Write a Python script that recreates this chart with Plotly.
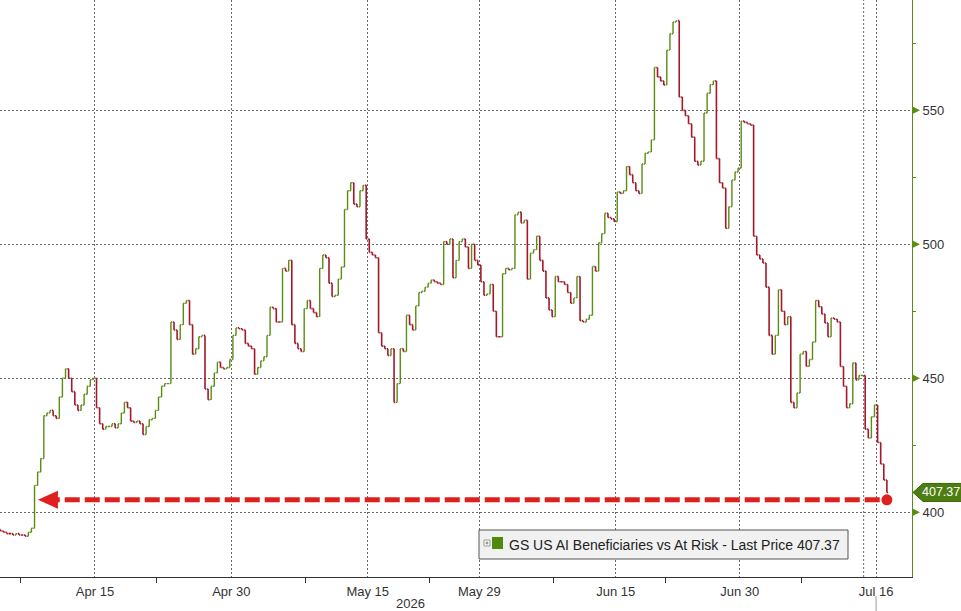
import pandas as pd
import plotly.graph_objects as go

# ------------------------
# Data (4 intraday bars per trading day)
# ------------------------
holidays = ["2026-04-03", "2026-05-25", "2026-06-19", "2026-07-03"]
trading_days = [d for d in pd.bdate_range("2026-04-02", "2026-07-16")
                if d.strftime("%Y-%m-%d") not in holidays]
bars_per_day = 4

closes = [
    393.5, 393.0, 392.5, 392.0,   # Apr 2
    392.0, 391.5, 392.0, 391.5,   # Apr 6
    391.5, 391.0, 392.5, 394.0,   # Apr 7
    410.0, 415.0, 420.0, 436.0,   # Apr 8
    437.0, 438.0, 436.0, 435.0,   # Apr 9
    443.0, 450.0, 453.5, 450.0,   # Apr 10
    445.0, 440.0, 438.0, 440.0,   # Apr 13
    444.0, 447.0, 449.5, 450.0,   # Apr 14
    439.0, 433.0, 431.0, 432.0,   # Apr 15
    432.0, 433.0, 431.5, 433.0,   # Apr 16
    437.0, 441.0, 439.0, 434.0,   # Apr 17
    433.5, 434.0, 433.0, 429.0,   # Apr 20
    432.0, 434.5, 435.0, 438.0,   # Apr 21
    443.0, 447.0, 448.0, 448.0,   # Apr 22
    471.0, 468.0, 464.5, 470.0,   # Apr 23
    478.0, 479.0, 470.0, 459.0,   # Apr 24
    461.0, 465.5, 466.0, 446.0,   # Apr 27
    442.0, 447.0, 452.0, 456.0,   # Apr 28
    454.0, 453.5, 454.0, 457.0,   # Apr 29
    466.0, 468.8, 468.5, 468.0,   # Apr 30
    463.0, 462.0, 461.0, 451.5,   # May 1
    454.0, 456.5, 458.0, 466.0,   # May 4
    476.5, 476.0, 471.0, 471.0,   # May 5
    491.0, 490.0, 494.0, 470.0,   # May 6
    463.0, 461.0, 460.0, 476.0,   # May 7
    479.0, 476.0, 474.5, 473.0,   # May 8
    491.0, 496.0, 495.0, 485.5,   # May 11
    480.5, 481.0, 487.0, 491.5,   # May 12
    513.0, 520.0, 523.0, 515.0,   # May 13
    514.0, 520.0, 522.0, 502.0,   # May 14
    497.0, 496.0, 495.0, 467.0,   # May 15
    462.0, 461.0, 458.5, 461.0,   # May 18
    441.0, 448.0, 461.0, 460.0,   # May 19
    473.5, 470.0, 468.0, 477.0,   # May 20
    482.0, 482.5, 484.0, 485.5,   # May 21
    486.7, 486.0, 485.5, 485.0,   # May 22
    501.0, 500.0, 502.0, 487.5,   # May 26
    494.0, 501.0, 502.0, 499.0,   # May 27
    491.0, 500.0, 494.0, 492.3,   # May 28
    486.0, 481.0, 481.5, 485.0,   # May 29
    475.0, 465.5, 465.5, 489.0,   # Jun 1
    491.0, 490.5, 491.0, 511.0,   # Jun 2
    512.0, 508.0, 509.0, 487.0,   # Jun 3
    496.7, 498.0, 503.0, 494.0,   # Jun 4
    490.0, 480.0, 475.5, 473.0,   # Jun 5
    488.0, 486.0, 486.0, 485.0,   # Jun 8
    482.0, 478.0, 480.0, 488.0,   # Jun 9
    471.5, 471.0, 472.0, 473.5,   # Jun 10
    491.7, 490.0, 500.6, 504.0,   # Jun 11
    511.6, 510.0, 509.5, 508.5,   # Jun 12
    519.5, 519.0, 520.0, 529.0,   # Jun 15
    526.0, 523.0, 520.0, 519.0,   # Jun 16
    530.0, 534.0, 534.5, 539.0,   # Jun 17
    566.0, 562.5, 561.0, 559.5,   # Jun 18
    572.5, 578.6, 583.0, 583.5,   # Jun 22
    555.0, 550.0, 548.0, 545.0,   # Jun 23
    540.0, 531.0, 529.6, 531.0,   # Jun 24
    549.0, 556.4, 559.6, 561.0,   # Jun 25
    532.0, 523.0, 521.0, 506.0,   # Jun 26
    514.0, 524.0, 527.0, 528.5,   # Jun 29
    546.0, 545.5, 545.0, 544.5,   # Jun 30
    503.0, 496.0, 494.5, 493.0,   # Jul 1
    484.0, 466.0, 459.0, 466.0,   # Jul 2
    483.0, 475.0, 470.0, 473.0,   # Jul 6
    441.0, 439.0, 444.5, 459.0,   # Jul 7
    460.0, 454.5, 457.0, 463.5,   # Jul 8
    479.0, 476.7, 474.0, 470.6,   # Jul 9
    465.5, 472.5, 472.0, 471.0,   # Jul 10
    454.4, 447.0, 439.0, 440.5,   # Jul 13
    455.7, 449.4, 451.0, 451.0,   # Jul 14
    431.0, 427.7, 435.6, 440.0,   # Jul 15
    426.0, 418.0, 412.0, 407.37,  # Jul 16
]

last_price = 407.37
arrow_level = 404.6
series_name = "GS US AI Beneficiaries vs At Risk - Last Price 407.37"

major_dates = ["2026-04-15", "2026-04-30", "2026-05-15", "2026-05-29",
               "2026-06-15", "2026-06-30", "2026-07-16"]
major_labels = ["Apr 15", "Apr 30", "May 15", "May 29", "Jun 15", "Jun 30", "Jul 16"]
minor_dates = ["2026-04-07", "2026-04-22", "2026-05-08", "2026-05-22",
               "2026-06-08", "2026-06-22", "2026-07-08"]
y_ticks = [400, 450, 500, 550]
y_minor = [425, 475, 525, 575]

# ------------------------
# Build OHLC bars on a trading-day axis
# ------------------------
day_pos = {d.strftime("%Y-%m-%d"): i for i, d in enumerate(trading_days)}
x = [i + (k + 0.5) / bars_per_day
     for i in range(len(trading_days)) for k in range(bars_per_day)]
opens = [closes[0]] + closes[:-1]
highs = [max(o, c) for o, c in zip(opens, closes)]
lows = [min(o, c) for o, c in zip(opens, closes)]

GREEN = "#5b8c14"
RED = "#a3192b"
ARROW = "#e0201c"
GRID = "#6a6a6a"

fig = go.Figure()
fig.add_trace(go.Ohlc(
    x=x, open=opens, high=highs, low=lows, close=closes,
    increasing=dict(line=dict(color=GREEN, width=1.4)),
    decreasing=dict(line=dict(color=RED, width=1.6)),
    tickwidth=0.4, showlegend=False, hoverinfo="skip"
))

# red dot at the last bar
fig.add_trace(go.Scatter(
    x=[x[-1]], y=[arrow_level], mode="markers",
    marker=dict(color=ARROW, size=11), showlegend=False, hoverinfo="skip"
))

# ------------------------
# Shapes / annotations
# ------------------------
PW, PH = 912, 577  # plot area in pixels


def px(v):
    return v / PW


def py(v):
    return 1 - v / PH


shapes = []
# dashed arrow line + head
shapes.append(dict(type="line", xref="x", yref="y",
                   x0=day_pos["2026-04-09"] - 0.05, x1=x[-1],
                   y0=arrow_level, y1=arrow_level,
                   line=dict(color=ARROW, width=5, dash="15px,5px")))
shapes.append(dict(type="path", xref="x", yref="y",
                   xsizemode="pixel", ysizemode="pixel",
                   xanchor=day_pos["2026-04-09"] - 0.6, yanchor=arrow_level,
                   path="M0,0 L20,9 L20,-9 Z", fillcolor=ARROW, line=dict(width=0)))
# extra dotted gridline on Jul 15
shapes.append(dict(type="line", xref="x", yref="paper",
                   x0=day_pos["2026-07-15"], x1=day_pos["2026-07-15"], y0=0, y1=1,
                   line=dict(color=GRID, width=1, dash="2px,2px"), layer="below"))
# little marker line below Jul 16 label
shapes.append(dict(type="line", xref="x", yref="paper",
                   x0=day_pos["2026-07-16"], x1=day_pos["2026-07-16"],
                   y0=py(596), y1=py(612), line=dict(color="#999999", width=1)))
# right-axis triangle ticks
for v in y_ticks:
    shapes.append(dict(type="path", xref="paper", yref="y",
                       xsizemode="pixel", ysizemode="pixel", xanchor=1, yanchor=v,
                       path="M0,-4 L8,0 L0,4 Z", fillcolor=GREEN, line=dict(width=0)))
# last price tag
shapes.append(dict(type="path", xref="paper", yref="y",
                   xsizemode="pixel", ysizemode="pixel", xanchor=1, yanchor=last_price,
                   path="M1,0 L11,-9 L50,-9 L50,9 L11,9 Z",
                   fillcolor="#4e7e12", line=dict(color="#3b650a", width=1)))
# legend box
shapes.append(dict(type="rect", xref="paper", yref="paper",
                   x0=px(479), x1=px(848), y0=py(559), y1=py(530),
                   fillcolor="#f1f1f1", line=dict(color="#555555", width=1)))
shapes.append(dict(type="rect", xref="paper", yref="paper",
                   x0=px(484), x1=px(490), y0=py(546), y1=py(540),
                   fillcolor="#ffffff", line=dict(color="#9a9a9a", width=1)))
shapes.append(dict(type="path", xref="paper", yref="paper",
                   path=f"M{px(487)},{py(541.5)} L{px(487)},{py(544.5)} "
                        f"M{px(485.5)},{py(543)} L{px(488.5)},{py(543)}",
                   line=dict(color="#777777", width=1)))
shapes.append(dict(type="rect", xref="paper", yref="paper",
                   x0=px(492), x1=px(503), y0=py(549), y1=py(537),
                   fillcolor="#4e8a0e", line=dict(width=0)))

annotations = [
    dict(text=series_name, xref="paper", yref="paper", x=px(507), y=py(544.5),
         xanchor="left", yanchor="middle", showarrow=False,
         font=dict(family="Liberation Sans, Arial", size=14, color="#222222")),
    dict(text=f"{last_price:.2f}", xref="paper", yref="y", x=1, y=last_price,
         xanchor="center", yanchor="middle", xshift=29, showarrow=False,
         font=dict(family="Liberation Sans, Arial", size=12.5, color="#ffffff")),
    dict(text="2026", xref="paper", yref="paper", x=px(410), y=py(603),
         xanchor="center", yanchor="middle", showarrow=False,
         font=dict(family="Liberation Sans, Arial", size=13, color="#333333")),
]

fig.update_layout(
    width=961, height=611,
    margin=dict(l=0, r=49, t=0, b=34),
    paper_bgcolor="white", plot_bgcolor="white",
    font=dict(family="Liberation Sans, Arial", size=13, color="#333333"),
    shapes=shapes, annotations=annotations,
    xaxis=dict(
        range=[day_pos["2026-04-15"] - 7.66, day_pos["2026-04-15"] + 65.9],
        tickvals=[day_pos[d] for d in major_dates], ticktext=major_labels,
        ticks="outside", ticklen=2, tickcolor="rgba(0,0,0,0)",
        showgrid=True, gridcolor=GRID, griddash="2px,2px", gridwidth=1,
        showline=True, linecolor="#333333", linewidth=1,
        minor=dict(tickvals=[day_pos[d] for d in minor_dates], ticks="outside",
                   ticklen=5, tickcolor="#333333", showgrid=False),
        rangeslider=dict(visible=False), zeroline=False,
    ),
    yaxis=dict(
        side="right", range=[375.8, 591.2],
        tickvals=y_ticks, ticks="outside", ticklen=7, tickcolor="rgba(0,0,0,0)",
        showgrid=True, gridcolor=GRID, griddash="2px,2px", gridwidth=1,
        showline=True, linecolor=GREEN, linewidth=1,
        minor=dict(tickvals=y_minor, ticks="outside", ticklen=3,
                   tickcolor=GREEN, showgrid=False),
        zeroline=False,
    ),
)

# page body has a default margin; drop it so the figure sits at the top-left corner
fig.write_html("out.html", config={"displayModeBar": False},
               post_script="document.body.style.margin='0';")
